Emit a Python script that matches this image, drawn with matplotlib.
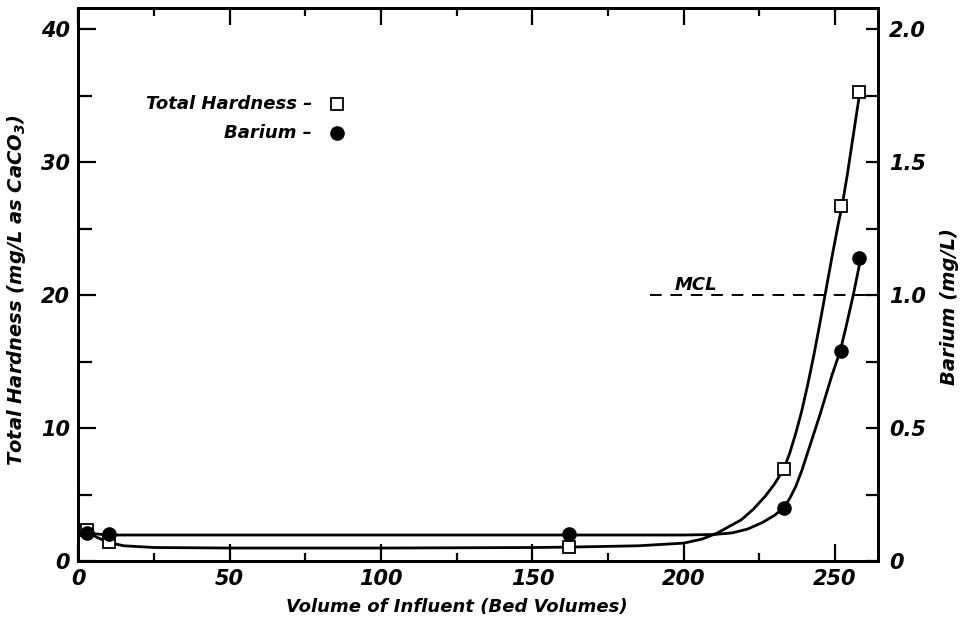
import matplotlib
matplotlib.use("Agg")
import matplotlib.pyplot as plt
from matplotlib.ticker import MultipleLocator

plt.rcParams['font.family'] = ['DejaVu Sans']
plt.rcParams['font.weight'] = 'bold'
plt.rcParams['font.style'] = 'italic'
plt.rcParams['axes.labelweight'] = 'bold'
plt.rcParams['mathtext.fontset'] = 'custom'
plt.rcParams['mathtext.rm'] = 'DejaVu Sans:italic:bold'
plt.rcParams['mathtext.it'] = 'DejaVu Sans:italic:bold'
plt.rcParams['mathtext.bf'] = 'DejaVu Sans:italic:bold'

# measured points
bed_volumes = [3, 10, 162, 233, 252, 258]
hardness = [2.3, 1.4, 1.05, 6.9, 26.7, 35.3]      # mg/L as CaCO3
barium = [0.105, 0.10, 0.10, 0.20, 0.79, 1.14]    # mg/L

# hand drawn fit curves
hard_curve_x = [3, 6, 10, 15, 25, 50, 100, 150, 162, 185, 200, 206, 211, 215,
                219, 223, 227, 230, 233, 235, 237, 239, 241, 243, 245, 247,
                249, 251, 252.3, 254, 256, 258.2]
hard_curve_y = [2.3, 1.8, 1.4, 1.15, 1.02, 0.98, 0.98, 1.02, 1.05, 1.15, 1.35,
                1.65, 2.1, 2.6, 3.1, 3.9, 4.9, 5.8, 6.9, 8.1, 9.6, 11.3, 13.3,
                15.5, 17.9, 20.4, 22.9, 25.3, 26.7, 29.0, 32.0, 35.3]
ba_curve_x = [3, 10, 50, 162, 200, 210, 216, 221, 226, 230, 233, 235, 237,
              239, 241, 243, 245, 247, 249, 251.7, 253.5, 256, 258.5]
ba_curve_y = [0.105, 0.098, 0.098, 0.098, 0.098, 0.100, 0.106, 0.120, 0.145,
              0.172, 0.20, 0.235, 0.28, 0.34, 0.41, 0.48, 0.55, 0.625, 0.70,
              0.79, 0.875, 1.0, 1.14]

mcl = 1.0
mcl_start = 189

fig = plt.figure(figsize=(9.67, 6.29), dpi=100)
ax = fig.add_axes([0.081, 0.108, 0.827, 0.879])
ax2 = ax.twinx()

ax.set_xlim(0, 264.2)
ax.set_ylim(0, 41.6)
ax2.set_ylim(0, 41.6 / 20)

ax.plot(hard_curve_x, hard_curve_y, color='black', lw=2, zorder=2)
ax2.plot(ba_curve_x, ba_curve_y, color='black', lw=2, zorder=2)
ax.plot(bed_volumes, hardness, 's', ms=8.5, mfc='white', mec='black', mew=1.3,
        zorder=5, clip_on=False)
ax2.plot(bed_volumes, barium, 'o', ms=9.5, color='black', zorder=5,
         clip_on=False)

ax2.plot([mcl_start, 264.2], [mcl, mcl], color='black', lw=1.4,
         linestyle=(0, (6, 4.5)))
ax2.text(197, 1.04, 'MCL', fontsize=13, ha='left', va='center')

# legend drawn as text, like the original
ax.text(0.292, 0.826, 'Total Hardness \u2013', transform=ax.transAxes,
        fontsize=13, ha='right', va='center')
ax.plot([0.3235], [0.826], 's', transform=ax.transAxes, ms=8, mfc='white',
        mec='black', mew=1.3)
ax.text(0.292, 0.774, 'Barium \u2013', transform=ax.transAxes,
        fontsize=13, ha='right', va='center')
ax.plot([0.3235], [0.774], 'o', transform=ax.transAxes, ms=9.5, color='black')

ax.xaxis.set_major_locator(MultipleLocator(50))
ax.xaxis.set_minor_locator(MultipleLocator(25))
ax.yaxis.set_major_locator(MultipleLocator(10))
ax.yaxis.set_minor_locator(MultipleLocator(5))
ax2.yaxis.set_minor_locator(MultipleLocator(0.25))
ax2.set_yticks([0, 0.5, 1.0, 1.5, 2.0])
ax2.set_yticklabels(['0', '0.5', '1.0', '1.5', '2.0'])

ax.tick_params(axis='x', which='major', direction='in', length=12, width=1.6,
               labelsize=15, pad=6, top=True)
ax.tick_params(axis='x', which='minor', direction='in', length=6, width=1.6,
               top=True)
ax.tick_params(axis='y', which='major', direction='in', length=13, width=1.6,
               labelsize=15, pad=6)
ax.tick_params(axis='y', which='minor', direction='in', length=10, width=1.6)
ax2.tick_params(axis='y', which='both', direction='in', length=8.5, width=1.6,
                labelsize=15, pad=8)

for a in (ax, ax2):
    for s in a.spines.values():
        s.set_linewidth(2)

ax.set_xlabel('Volume of Influent (Bed Volumes)', fontsize=13)
ax.xaxis.set_label_coords(0.4735, -0.066)
ax.set_ylabel('Total Hardness (mg/L as CaCO$_3$)', fontsize=14)
ax.yaxis.set_label_coords(-0.063, 0.49)
ax2.set_ylabel('Barium (mg/L)', fontsize=14, rotation=90)
ax2.yaxis.set_label_coords(1.077, 0.461)

fig.savefig('out.png', dpi=100)
